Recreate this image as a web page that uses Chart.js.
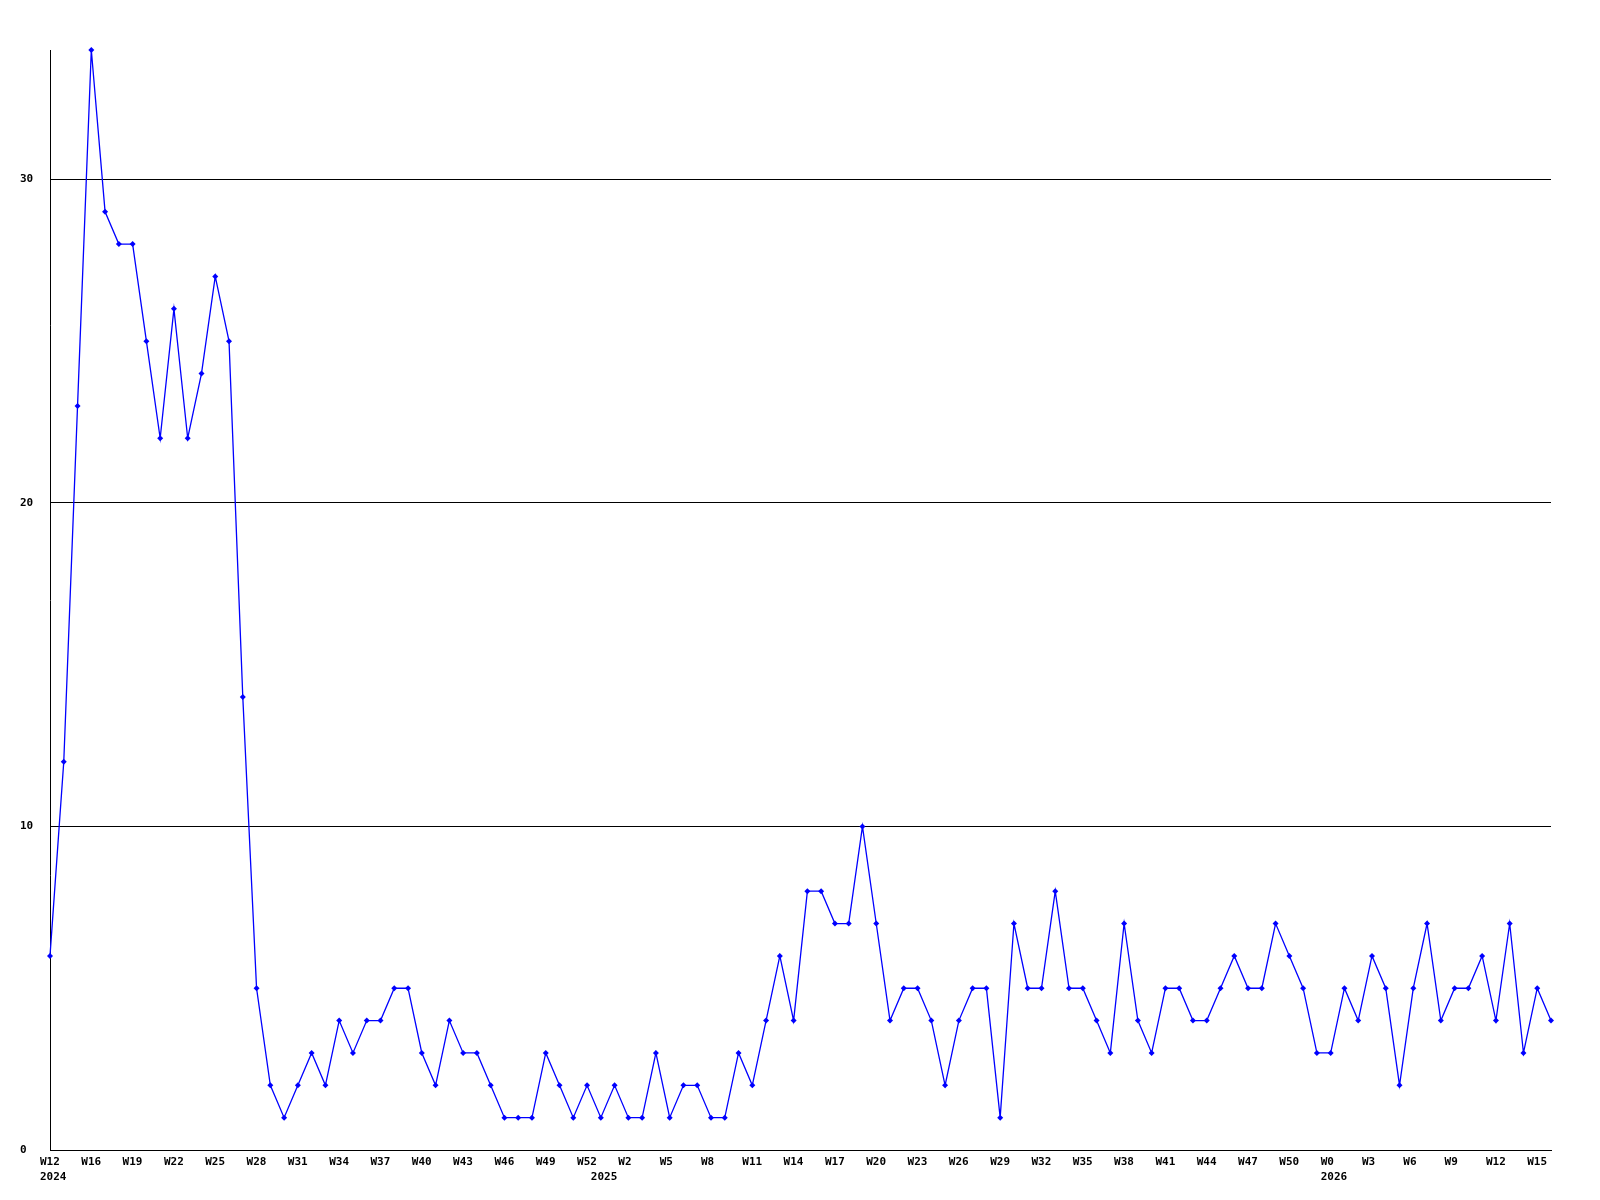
<!DOCTYPE html>
<html>
<head>
<meta charset="utf-8">
<script src="https://cdn.jsdelivr.net/npm/chart.js@4.4.1/dist/chart.umd.min.js"></script>
<style>
  html, body { margin: 0; padding: 0; background: #fff; }
  canvas { display: block; }
</style>
</head>
<body>
<canvas id="chart" width="1600" height="1200"></canvas>
<script>
// one entry per weekly point; the week number resets at each new year
const weeks = [
  'W12', 'W14', 'W15', 'W16', 'W17', 'W18', 'W19', 'W20', 'W21', 'W22', 'W23', 'W24', 'W25', 'W26',
  'W27', 'W28', 'W29', 'W30', 'W31', 'W32', 'W33', 'W34', 'W35', 'W36', 'W37', 'W38', 'W39', 'W40',
  'W41', 'W42', 'W43', 'W44', 'W45', 'W46', 'W47', 'W48', 'W49', 'W50', 'W51', 'W52',
  'W0', 'W1', 'W2', 'W3', 'W4', 'W5', 'W6', 'W7', 'W8', 'W9', 'W10', 'W11', 'W12', 'W13', 'W14',
  'W15', 'W16', 'W17', 'W18', 'W19', 'W20', 'W21', 'W22', 'W23', 'W24', 'W25', 'W26', 'W27', 'W28',
  'W29', 'W30', 'W31', 'W32', 'W33', 'W34', 'W35', 'W36', 'W37', 'W38', 'W39', 'W40', 'W41', 'W42',
  'W43', 'W44', 'W45', 'W46', 'W47', 'W48', 'W49', 'W50', 'W51', 'W52',
  'W0', 'W1', 'W2', 'W3', 'W4', 'W5', 'W6', 'W7', 'W8', 'W9', 'W10', 'W11', 'W12', 'W13', 'W14',
  'W15', 'W16'
];
const years = ['2024', '2025', '2026'];
const counts = [
  6, 12, 23, 34, 29, 28, 28, 25, 22, 26, 22, 24, 27, 25, 14,
  5, 2, 1, 2, 3, 2, 4, 3, 4, 4, 5, 5, 3, 2, 4,
  3, 3, 2, 1, 1, 1, 3, 2, 1, 2, 1, 2, 1, 1, 3,
  1, 2, 2, 1, 1, 3, 2, 4, 6, 4, 8, 8, 7, 7, 10,
  7, 4, 5, 5, 4, 2, 4, 5, 5, 1, 7, 5, 5, 8, 5,
  5, 4, 3, 7, 4, 3, 5, 5, 4, 4, 5, 6, 5, 5, 7,
  6, 5, 3, 3, 5, 4, 6, 5, 2, 5, 7, 4, 5, 5, 6,
  4, 7, 3, 5, 4
];
const yTicks = [0, 10, 20, 30];
const yMax = 34;

// year label goes under the first week of each year
const weekNum = w => parseInt(w.slice(1), 10);
const yearAt = {};
let yi = 0;
weeks.forEach((w, i) => {
  if (i === 0) yearAt[i] = years[0];
  else if (weekNum(w) < weekNum(weeks[i - 1])) yearAt[i] = years[++yi];
});

const font = { family: '"DejaVu Sans Mono", monospace', size: 11, weight: 'bold', lineHeight: '14.5px' };

new Chart(document.getElementById('chart'), {
  type: 'line',
  data: {
    labels: weeks,
    datasets: [{
      data: counts,
      borderColor: '#0000ff',
      borderWidth: 1.3,
      tension: 0,
      pointStyle: 'rectRot',
      pointRadius: 3,
      pointBackgroundColor: '#0000ff',
      pointBorderWidth: 0,
      clip: false
    }]
  },
  options: {
    responsive: false,
    animation: false,
    layout: { padding: { left: 20, top: 50, right: 49, bottom: 0 } },
    plugins: { legend: { display: false }, tooltip: { enabled: false } },
    scales: {
      x: {
        grid: { display: false, drawTicks: false },
        border: { display: true, color: '#000', width: 1 },
        afterFit: s => { s.height = 50; },
        ticks: {
          autoSkip: false, maxRotation: 0, minRotation: 0,
          align: 'start', labelOffset: -10, padding: 5,
          color: '#000', font,
          callback: (v, i) => {
            const w = i % 3 === 0 ? weeks[i] : '';
            return yearAt[i] ? [w, yearAt[i]] : w;
          }
        }
      },
      y: {
        min: 0, max: yMax,
        afterBuildTicks: s => { s.ticks = yTicks.map(v => ({ value: v })); },
        afterFit: s => { s.width = 30; },
        grid: { color: '#000', lineWidth: 1, drawTicks: false },
        border: { display: true, color: '#000', width: 1 },
        ticks: { crossAlign: 'far', padding: 0, color: '#000', font }
      }
    }
  }
});
</script>
</body>
</html>
